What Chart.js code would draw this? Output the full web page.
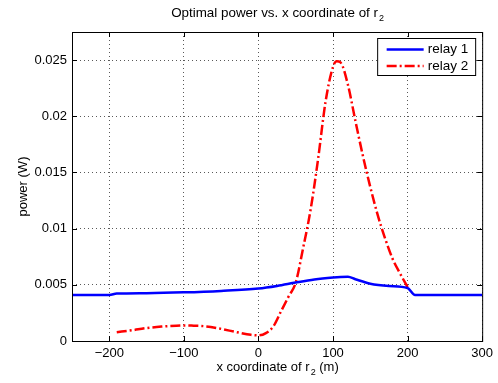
<!DOCTYPE html>
<html>
<head>
<meta charset="utf-8">
<title>Optimal power vs. x coordinate of r2</title>
<script src="https://cdn.jsdelivr.net/npm/chart.js@4.4.0/dist/chart.umd.min.js"></script>
<style>
    html, body { margin: 0; padding: 0; background: #fff; }
    canvas { display: block; }
</style>
</head>
<body>
<canvas id="powerChart" width="498" height="383"></canvas>
<script>
// x positions (m) and optimal power (W) for each relay
const xRelay1 = [-250, -200, -190, -150, -100, -50, 0, 25, 50, 75, 100, 110, 120, 130, 150, 175, 200, 210, 300];
const relay1 = [0.0041, 0.0041, 0.00422, 0.00426, 0.00433, 0.00446, 0.00467, 0.0049, 0.0052, 0.00547, 0.00565, 0.0057, 0.00572, 0.0055, 0.0051, 0.0049, 0.00472, 0.0041, 0.0041];

const xRelay2 = [-190, -170, -150, -130, -110, -100, -90, -70, -50, -30, -10, 0, 10, 20, 30, 40, 50, 60, 70, 80, 90, 100, 105, 110, 120, 130, 140, 150, 160, 170, 180, 190, 200];
const relay2 = [0.00078, 0.00095, 0.00115, 0.00128, 0.00136, 0.00138, 0.00137, 0.0013, 0.00108, 0.0008, 0.00055, 0.0005, 0.0007, 0.0013, 0.0026, 0.0039, 0.0052, 0.0083, 0.0117, 0.0162, 0.0213, 0.0244, 0.0249, 0.0248, 0.0228, 0.0196, 0.0165, 0.0137, 0.0112, 0.0091, 0.0073, 0.006, 0.0048];

const xTicks = [-200, -100, 0, 100, 200, 300];
const yTicks = [0, 0.005, 0.01, 0.015, 0.02, 0.025];

const FONT = 'Liberation Sans, Arial, Helvetica, sans-serif';

function toPoints(xs, ys) {
    return xs.map((x, i) => ({ x: x, y: ys[i] }));
}

// text with a subscripted part, centred on cx
function drawSubText(ctx, main, sub, tail, cx, cy, size) {
    const mainFont = size + 'px ' + FONT;
    const subFont = Math.round(size * 0.7) + 'px ' + FONT;
    ctx.font = mainFont;
    const wMain = ctx.measureText(main).width;
    const wTail = ctx.measureText(tail).width;
    ctx.font = subFont;
    const wSub = ctx.measureText(sub).width;
    let x = cx - (wMain + wSub + wTail) / 2;
    ctx.textAlign = 'left';
    ctx.textBaseline = 'middle';
    ctx.font = mainFont;
    ctx.fillText(main, x, cy);
    x += wMain + 1;
    ctx.font = subFont;
    ctx.fillText(sub, x, cy + 6);
    x += wSub;
    ctx.font = mainFont;
    ctx.fillText(tail, x, cy);
}

// axes box, inward ticks, legend and titles
const matlabFrame = {
    id: 'matlabFrame',
    afterDatasetsDraw(chart) {
        const ctx = chart.ctx;
        const a = chart.chartArea;
        const xs = chart.scales.x;
        const ys = chart.scales.y;
        ctx.save();
        ctx.strokeStyle = '#000';
        ctx.lineWidth = 1;
        ctx.setLineDash([]);
        ctx.strokeRect(a.left + 0.5, a.top + 0.5, a.right - a.left, a.bottom - a.top);
        ctx.beginPath();
        xTicks.forEach(v => {
            const px = Math.round(xs.getPixelForValue(v)) + 0.5;
            ctx.moveTo(px, a.bottom); ctx.lineTo(px, a.bottom - 5);
            ctx.moveTo(px, a.top); ctx.lineTo(px, a.top + 5);
        });
        yTicks.forEach(v => {
            const py = Math.round(ys.getPixelForValue(v)) + 0.5;
            ctx.moveTo(a.left, py); ctx.lineTo(a.left + 5, py);
            ctx.moveTo(a.right, py); ctx.lineTo(a.right - 5, py);
        });
        ctx.stroke();

        // legend
        const bw = 98, bh = 37;
        const bx = a.right - 7 - bw + 0.5;
        const by = a.top + 6 + 0.5;
        ctx.fillStyle = '#fff';
        ctx.fillRect(bx, by, bw, bh);
        ctx.strokeRect(bx, by, bw, bh);
        chart.data.datasets.forEach((ds, i) => {
            const ry = by + 11 + i * 16.5;
            ctx.beginPath();
            ctx.strokeStyle = ds.borderColor;
            ctx.lineWidth = ds.borderWidth;
            ctx.setLineDash(ds.borderDash || []);
            ctx.moveTo(bx + 9, ry);
            ctx.lineTo(bx + 46, ry);
            ctx.stroke();
            ctx.setLineDash([]);
            ctx.fillStyle = '#000';
            ctx.font = '13.5px ' + FONT;
            ctx.textAlign = 'left';
            ctx.textBaseline = 'middle';
            ctx.fillText(ds.label, bx + 50, ry);
        });
        ctx.restore();
    },
    afterDraw(chart) {
        const ctx = chart.ctx;
        const a = chart.chartArea;
        const cx = (a.left + a.right) / 2;
        ctx.save();
        ctx.fillStyle = '#000';
        drawSubText(ctx, 'Optimal power vs. x coordinate of r', '2', '', cx, 13, 13.4);
        drawSubText(ctx, 'x coordinate of r', '2', ' (m)', cx, 367, 13);
        ctx.translate(23, (a.top + a.bottom) / 2);
        ctx.rotate(-Math.PI / 2);
        ctx.font = '13px ' + FONT;
        ctx.textAlign = 'center';
        ctx.textBaseline = 'middle';
        ctx.fillText('power (W)', 0, 0);
        ctx.restore();
    }
};

// shared dotted grid style
const dottedGrid = {
    color: 'rgba(0,0,0,0.65)',
    lineWidth: 1,
    drawTicks: false,
    tickLength: 0
};

const ctx = document.getElementById('powerChart').getContext('2d');
const powerChart = new Chart(ctx, {
    type: 'line',
    data: {
        datasets: [{
            label: 'relay 1',
            data: toPoints(xRelay1, relay1),
            borderColor: '#0000ff',
            borderWidth: 2.5,
            pointRadius: 0,
            cubicInterpolationMode: 'monotone',
            fill: false
        }, {
            label: 'relay 2',
            data: toPoints(xRelay2, relay2),
            borderColor: '#ff0000',
            borderWidth: 2.5,
            borderDash: [10, 3, 2, 3],
            pointRadius: 0,
            cubicInterpolationMode: 'monotone',
            fill: false
        }]
    },
    options: {
        responsive: false,
        animation: false,
        devicePixelRatio: 1,
        layout: { padding: { top: 32, right: 15, left: 0, bottom: 0 } },
        plugins: {
            legend: { display: false },
            title: { display: false },
            tooltip: { enabled: false }
        },
        scales: {
            x: {
                type: 'linear',
                min: -250,
                max: 300,
                afterBuildTicks: scale => { scale.ticks = xTicks.map(v => ({ value: v })); },
                afterFit: scale => { scale.height = 42; },
                border: { display: false, dash: [1, 3] },
                grid: dottedGrid,
                ticks: {
                    color: '#000',
                    padding: 5,
                    maxRotation: 0,
                    font: { family: FONT, size: 13 },
                    callback: v => v < 0 ? '\u2212' + Math.abs(v) : String(v)
                }
            },
            y: {
                type: 'linear',
                min: 0,
                max: 0.0275,
                afterBuildTicks: scale => { scale.ticks = yTicks.map(v => ({ value: v })); },
                afterFit: scale => { scale.width = 72; },
                border: { display: false, dash: [1, 3] },
                grid: dottedGrid,
                ticks: {
                    color: '#000',
                    padding: 5,
                    font: { family: FONT, size: 13 },
                    callback: v => String(v)
                }
            }
        }
    },
    plugins: [matlabFrame]
});
</script>
</body>
</html>
